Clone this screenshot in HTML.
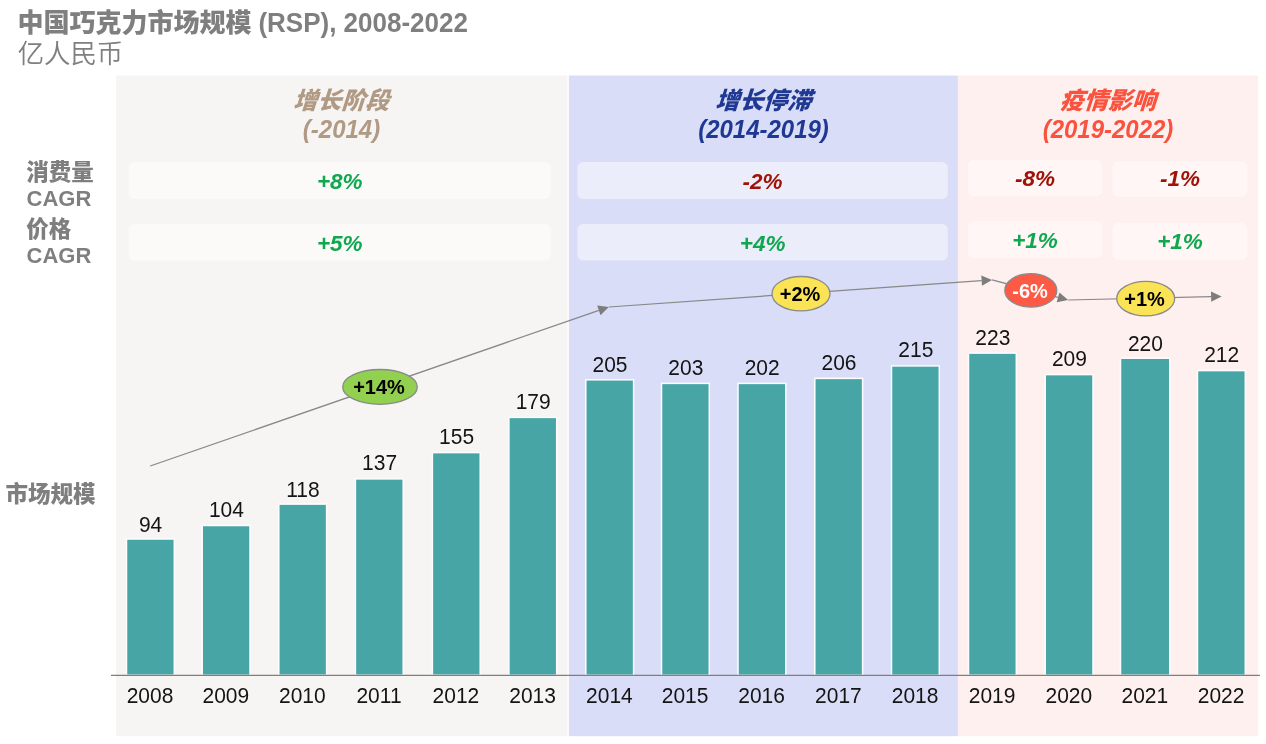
<!DOCTYPE html>
<html lang="zh-CN"><head><meta charset="utf-8"><title>中国巧克力市场规模</title>
<style>html,body{margin:0;padding:0;background:#fff}body{width:1266px;height:744px;overflow:hidden;position:relative}svg{position:absolute;left:0;top:0;display:block}text{font-family:"Liberation Sans","Noto Sans CJK SC",sans-serif}
.v{font-size:21px;fill:#141414;text-anchor:middle}.p{font-size:22.5px;font-weight:bold;font-style:italic;text-anchor:middle}.g{fill:#0fa84e}.r{fill:#a01208}.h{font-size:24px;font-weight:900;font-style:italic;text-anchor:middle}.l{font-size:22px;font-weight:900;fill:#7f7f7f}.o{font-size:20px;font-weight:bold;text-anchor:middle}.b{font-weight:bold}
</style></head><body>
<svg width="1266" height="744" viewBox="0 0 1266 744">
<rect x="116" y="75.5" width="451" height="660.7" fill="#f6f5f3"/>
<rect x="567" y="75.5" width="2" height="660.7" fill="#fbfbfd"/>
<rect x="569" y="75.5" width="388.9" height="660.7" fill="#d9ddf7"/>
<rect x="957.9" y="75.5" width="300.2" height="660.7" fill="#fef0ee"/>
<rect x="128.6" y="162.1" width="422.3" height="36.8" rx="6" fill="#fbfaf9"/>
<rect x="128.6" y="224.0" width="422.3" height="36.6" rx="6" fill="#fbfaf9"/>
<rect x="577.3" y="162.1" width="370.6" height="36.8" rx="6" fill="#ebedfb"/>
<rect x="577.3" y="224.0" width="370.6" height="36.6" rx="6" fill="#ebedfb"/>
<rect x="967.7" y="159.7" width="134.6" height="36.6" rx="6" fill="#fff6f5"/>
<rect x="967.7" y="221.0" width="134.6" height="37.0" rx="6" fill="#fff6f5"/>
<rect x="1112.3" y="161.3" width="135.2" height="35.5" rx="6" fill="#fff6f5"/>
<rect x="1112.3" y="222.9" width="135.2" height="36.8" rx="6" fill="#fff6f5"/>
<line x1="150.2" y1="466.0" x2="598.9" y2="310.4" stroke="#888888" stroke-width="1.25"/>
<polygon points="608.8,307.0 600.5,315.3 597.2,305.6" fill="#7d7d7d"/>
<line x1="608.8" y1="307.0" x2="981.6" y2="280.6" stroke="#888888" stroke-width="1.25"/>
<polygon points="992.1,279.9 982.0,285.7 981.3,275.6" fill="#7d7d7d"/>
<line x1="992.1" y1="279.9" x2="1058.0" y2="297.3" stroke="#888888" stroke-width="1.25"/>
<polygon points="1068.2,300.0 1056.7,302.2 1059.4,292.4" fill="#7d7d7d"/>
<line x1="1068.2" y1="300.0" x2="1211.1" y2="296.7" stroke="#888888" stroke-width="1.25"/>
<polygon points="1221.6,296.5 1211.2,301.8 1211.0,291.6" fill="#7d7d7d"/>
<ellipse cx="380.0" cy="386.9" rx="37.3" ry="17.4" fill="#92d050" stroke="#8a8a8a" stroke-width="1.3"/>
<ellipse cx="801.0" cy="293.7" rx="29.0" ry="17.2" fill="#fbe356" stroke="#8a8a8a" stroke-width="1.3"/>
<ellipse cx="1030.8" cy="290.4" rx="26.0" ry="16.7" fill="#fc5a44" stroke="#8a8a8a" stroke-width="1.3"/>
<ellipse cx="1145.7" cy="298.6" rx="29.0" ry="17.3" fill="#fbe356" stroke="#8a8a8a" stroke-width="1.3"/>
<rect x="126.5" y="539.0" width="47.8" height="136.2" fill="#47a5a6" stroke="#fdfdfe" stroke-width="1.5"/>
<rect x="202.2" y="525.5" width="47.8" height="149.8" fill="#47a5a6" stroke="#fdfdfe" stroke-width="1.5"/>
<rect x="278.8" y="504.1" width="47.8" height="171.1" fill="#47a5a6" stroke="#fdfdfe" stroke-width="1.5"/>
<rect x="355.4" y="478.9" width="47.8" height="196.3" fill="#47a5a6" stroke="#fdfdfe" stroke-width="1.5"/>
<rect x="432.4" y="452.6" width="47.8" height="222.6" fill="#47a5a6" stroke="#fdfdfe" stroke-width="1.5"/>
<rect x="508.9" y="417.4" width="47.8" height="257.9" fill="#47a5a6" stroke="#fdfdfe" stroke-width="1.5"/>
<rect x="585.8" y="379.8" width="47.8" height="295.5" fill="#47a5a6" stroke="#fdfdfe" stroke-width="1.5"/>
<rect x="661.5" y="383.4" width="47.8" height="291.9" fill="#47a5a6" stroke="#fdfdfe" stroke-width="1.5"/>
<rect x="738.0" y="383.4" width="47.8" height="291.9" fill="#47a5a6" stroke="#fdfdfe" stroke-width="1.5"/>
<rect x="814.8" y="378.4" width="47.8" height="296.9" fill="#47a5a6" stroke="#fdfdfe" stroke-width="1.5"/>
<rect x="891.5" y="365.9" width="47.8" height="309.4" fill="#47a5a6" stroke="#fdfdfe" stroke-width="1.5"/>
<rect x="968.5" y="353.1" width="47.8" height="322.1" fill="#47a5a6" stroke="#fdfdfe" stroke-width="1.5"/>
<rect x="1045.2" y="374.6" width="47.8" height="300.7" fill="#47a5a6" stroke="#fdfdfe" stroke-width="1.5"/>
<rect x="1120.5" y="358.2" width="49.3" height="317.0" fill="#47a5a6" stroke="#fdfdfe" stroke-width="1.5"/>
<rect x="1197.5" y="370.6" width="47.8" height="304.7" fill="#47a5a6" stroke="#fdfdfe" stroke-width="1.5"/>
<line x1="111" y1="675.4" x2="1260" y2="675.4" stroke="#7f7f7f" stroke-width="1.25"/>
<text x="17.4" y="32" font-size="26" font-weight="900" fill="#7f7f7f">中国巧克力市场规模</text>
<text transform="translate(258.4,31.6) scale(1,1.04)" font-size="26" font-weight="bold" fill="#7f7f7f">(RSP), 2008-2022</text>
<text x="17.7" y="62.7" font-size="26.4" font-weight="350" fill="#7f7f7f">亿人民币</text>
<text class="l" x="26.2" y="180.4" style="font-size:22.5px">消费量</text>
<text class="l b" transform="translate(26.5,206.3) scale(1,1.045)">CAGR</text>
<text class="l" x="26.2" y="237.2" style="font-size:22.5px">价格</text>
<text class="l b" transform="translate(26.5,263) scale(1,1.045)">CAGR</text>
<text class="l" x="5.4" y="502.2" style="font-size:22.5px">市场规模</text>
<text class="h" transform="translate(340.9,109.3) skewX(-4)" fill="#b09a84">增长阶段</text>
<text class="h" transform="translate(341.5,138.3) scale(1,1.045)" fill="#b09a84">(-2014)</text>
<text class="h" transform="translate(762.9,109.3) skewX(-4)" fill="#1f3893">增长停滞</text>
<text class="h" transform="translate(763.5,138.3) scale(1,1.045)" fill="#1f3893">(2014-2019)</text>
<text class="h" transform="translate(1107.4,109.3) skewX(-4)" fill="#fa523e">疫情影响</text>
<text class="h" transform="translate(1108,138.3) scale(1,1.045)" fill="#fa523e">(2019-2022)</text>
<text class="p g" transform="translate(339.7,188.5) scale(1,1.02)">+8%</text>
<text class="p g" transform="translate(339.7,250.6) scale(1,1.02)">+5%</text>
<text class="p r" transform="translate(762.6,188.5) scale(1,1.02)">-2%</text>
<text class="p g" transform="translate(762.6,250.6) scale(1,1.02)">+4%</text>
<text class="p r" transform="translate(1035,186.2) scale(1,1.02)">-8%</text>
<text class="p g" transform="translate(1035,248) scale(1,1.02)">+1%</text>
<text class="p r" transform="translate(1180,186.2) scale(1,1.02)">-1%</text>
<text class="p g" transform="translate(1180,249) scale(1,1.02)">+1%</text>
<text class="o" transform="translate(379,393.7) scale(1,1.045)" fill="#000">+14%</text>
<text class="o" transform="translate(800,300.6) scale(1,1.045)" fill="#000">+2%</text>
<text class="o" transform="translate(1030,298.4) scale(1,1.045)" fill="#fff">-6%</text>
<text class="o" transform="translate(1144.5,305.6) scale(1,1.045)" fill="#000">+1%</text>
<text class="v" transform="translate(150.6,532.2) scale(1,1.045)">94</text>
<text class="v" transform="translate(150.0,702.6) scale(1,1.045)">2008</text>
<text class="v" transform="translate(226.4,517.0) scale(1,1.045)">104</text>
<text class="v" transform="translate(225.8,702.6) scale(1,1.045)">2009</text>
<text class="v" transform="translate(302.9,497.2) scale(1,1.045)">118</text>
<text class="v" transform="translate(302.3,702.6) scale(1,1.045)">2010</text>
<text class="v" transform="translate(379.6,470.3) scale(1,1.045)">137</text>
<text class="v" transform="translate(379.0,702.6) scale(1,1.045)">2011</text>
<text class="v" transform="translate(456.6,443.7) scale(1,1.045)">155</text>
<text class="v" transform="translate(455.9,702.6) scale(1,1.045)">2012</text>
<text class="v" transform="translate(533.2,408.6) scale(1,1.045)">179</text>
<text class="v" transform="translate(532.6,702.6) scale(1,1.045)">2013</text>
<text class="v" transform="translate(610.0,372.3) scale(1,1.045)">205</text>
<text class="v" transform="translate(609.4,702.6) scale(1,1.045)">2014</text>
<text class="v" transform="translate(685.8,375.0) scale(1,1.045)">203</text>
<text class="v" transform="translate(685.1,702.6) scale(1,1.045)">2015</text>
<text class="v" transform="translate(762.2,375.0) scale(1,1.045)">202</text>
<text class="v" transform="translate(761.6,702.6) scale(1,1.045)">2016</text>
<text class="v" transform="translate(839.0,369.8) scale(1,1.045)">206</text>
<text class="v" transform="translate(838.4,702.6) scale(1,1.045)">2017</text>
<text class="v" transform="translate(915.8,356.9) scale(1,1.045)">215</text>
<text class="v" transform="translate(915.1,702.6) scale(1,1.045)">2018</text>
<text class="v" transform="translate(992.8,344.8) scale(1,1.045)">223</text>
<text class="v" transform="translate(992.1,702.6) scale(1,1.045)">2019</text>
<text class="v" transform="translate(1069.4,366.0) scale(1,1.045)">209</text>
<text class="v" transform="translate(1068.8,702.6) scale(1,1.045)">2020</text>
<text class="v" transform="translate(1145.4,350.8) scale(1,1.045)">220</text>
<text class="v" transform="translate(1144.8,702.6) scale(1,1.045)">2021</text>
<text class="v" transform="translate(1221.7,362.2) scale(1,1.045)">212</text>
<text class="v" transform="translate(1221.1,702.6) scale(1,1.045)">2022</text>
</svg></body></html>
